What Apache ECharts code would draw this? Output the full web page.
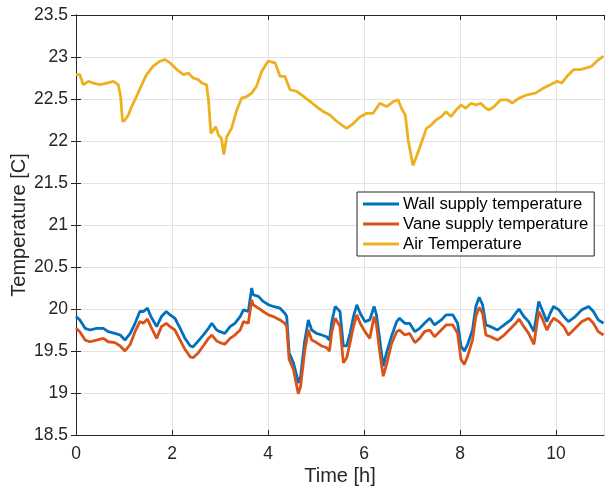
<!DOCTYPE html>
<html><head><meta charset="utf-8">
<script src="https://cdn.jsdelivr.net/npm/echarts@6/dist/echarts.min.js"></script>
<style>html,body{margin:0;padding:0;background:#fff}#c{width:607px;height:491px}</style>
</head><body><div id="c"></div>
<script>
const seriesNames = ['Wall supply temperature', 'Vane supply temperature', 'Air Temperature'];
const xTicks = [0, 2, 4, 6, 8, 10];
const yTicks = [18.5, 19, 19.5, 20, 20.5, 21, 21.5, 22, 22.5, 23, 23.5];

const supplyTime = [0,0.08,0.19,0.29,0.43,0.57,0.67,0.81,0.92,1.02,1.13,1.23,1.33,1.40,1.49,1.56,1.68,1.78,1.88,1.96,2.06,2.17,2.27,2.38,2.44,2.55,2.65,2.76,2.83,2.93,3.0,3.1,3.21,3.31,3.42,3.49,3.59,3.66,3.69,3.8,3.9,4.01,4.11,4.25,4.35,4.39,4.44,4.53,4.6,4.63,4.68,4.76,4.84,4.91,5.01,5.12,5.22,5.28,5.33,
5.40,5.50,5.57,5.64,5.71,5.78,5.85,5.92,6.02,6.12,6.21,6.26,6.33,6.40,6.47,6.57,6.68,6.74,6.85,6.95,7.06,7.16,7.26,7.37,7.47,7.61,7.71,7.85,7.95,8.02,8.09,8.16,8.26,8.33,8.40,8.47,8.54,8.64,8.78,8.92,9.06,9.16,9.23,9.33,9.43,9.54,9.64,9.71,9.81,9.88,9.95,10.06,10.16,10.26,10.40,10.54,10.68,10.78,10.88,10.99];

const wallSupply = [19.91,19.87,19.77,19.75,19.77,19.77,19.73,19.71,19.69,19.63,19.71,19.83,19.97,19.97,20.01,19.91,19.79,19.91,19.97,19.93,19.89,19.77,19.65,19.56,19.55,19.62,19.69,19.77,19.83,19.75,19.73,19.71,19.79,19.83,19.91,19.99,19.97,20.25,20.17,20.15,20.09,20.05,20.03,20.01,19.95,19.91,19.48,19.36,19.20,19.12,19.20,19.60,19.87,19.75,19.71,19.69,19.67,19.63,19.85,
20.03,19.97,19.56,19.56,19.71,19.91,20.05,19.95,19.85,19.87,20.03,19.93,19.63,19.32,19.48,19.67,19.85,19.89,19.83,19.83,19.73,19.77,19.83,19.89,19.81,19.87,19.93,19.93,19.83,19.56,19.50,19.58,19.75,20.03,20.14,20.05,19.81,19.79,19.75,19.81,19.87,19.95,20.00,19.91,19.85,19.73,20.09,19.99,19.85,19.95,20.03,19.99,19.91,19.85,19.91,19.99,20.03,19.97,19.87,19.83];

const vaneSupply = [19.77,19.73,19.63,19.61,19.63,19.65,19.61,19.60,19.56,19.50,19.58,19.73,19.85,19.83,19.88,19.79,19.65,19.79,19.83,19.79,19.75,19.63,19.52,19.43,19.42,19.48,19.56,19.65,19.69,19.62,19.60,19.58,19.65,19.69,19.75,19.85,19.83,20.11,20.05,20.01,19.97,19.93,19.91,19.87,19.83,19.79,19.40,19.28,19.08,18.99,19.08,19.48,19.75,19.63,19.60,19.56,19.54,19.50,19.73,
19.89,19.79,19.36,19.42,19.60,19.79,19.93,19.83,19.73,19.65,19.91,19.81,19.48,19.20,19.34,19.58,19.73,19.75,19.69,19.71,19.60,19.65,19.73,19.75,19.67,19.75,19.81,19.81,19.71,19.40,19.34,19.44,19.63,19.91,20.02,19.95,19.69,19.67,19.63,19.69,19.77,19.83,19.88,19.79,19.71,19.58,19.97,19.89,19.75,19.83,19.89,19.85,19.79,19.69,19.77,19.85,19.89,19.83,19.73,19.69];

const airTime = [0,0.08,0.15,0.26,0.36,0.5,0.64,0.78,0.88,0.93,0.97,1.02,1.09,1.16,1.26,1.37,1.47,1.61,1.75,1.85,1.96,2.1,2.24,2.34,2.44,2.55,2.62,2.72,2.76,2.81,2.86,2.91,2.97,3.03,3.08,3.14,3.24,3.35,3.45,3.56,3.66,3.76,3.87,4.0,4.15,4.25,4.35,4.46,4.6,4.74,4.88,5.01,5.15,5.29,5.4,5.54,5.64,5.78,5.92,6.06,6.19,6.33,6.47,6.61,6.71,6.78,6.86,6.92,7.02,7.09,7.19,7.3,7.4,7.5,7.61,7.71,7.81,7.92,8.02,8.12,8.23,8.33,8.43,8.54,8.61,8.71,8.85,8.99,9.09,9.23,9.4,9.57,9.74,9.88,10.02,10.12,10.23,10.37,10.5,10.64,10.74,10.85,10.99];
const airTemp = [22.79,22.79,22.67,22.71,22.69,22.67,22.69,22.71,22.67,22.53,22.23,22.25,22.31,22.41,22.53,22.67,22.79,22.89,22.95,22.97,22.93,22.85,22.79,22.81,22.75,22.73,22.69,22.67,22.49,22.09,22.13,22.17,22.07,22.03,21.84,22.05,22.15,22.37,22.51,22.53,22.57,22.65,22.83,22.95,22.93,22.77,22.77,22.61,22.59,22.53,22.47,22.41,22.35,22.31,22.25,22.19,22.15,22.21,22.29,22.33,22.33,22.45,22.41,22.47,22.49,22.39,22.31,22.01,21.71,21.81,21.97,22.15,22.19,22.25,22.29,22.35,22.29,22.37,22.43,22.39,22.45,22.43,22.45,22.39,22.37,22.41,22.49,22.49,22.45,22.51,22.55,22.57,22.63,22.67,22.71,22.69,22.77,22.85,22.85,22.87,22.89,22.95,23.01];

const colors = ['#0072BD', '#D95319', '#EDB120'];
const zip = (t, v) => t.map((x, i) => [x, v[i]]);
const font = 'Liberation Sans, Arial, Helvetica, sans-serif';
const txt = '#262626';

const chart = echarts.init(document.getElementById('c'), null, {renderer: 'canvas'});
const axisLine = {show: true, lineStyle: {color: '#262626', width: 1}};
const tick = {show: true, inside: true, length: 5, lineStyle: {color: '#262626'}};
chart.setOption({
  animation: false,
  backgroundColor: '#fff',
  grid: {left: 76, right: 3, top: 15, bottom: 56, containLabel: false, outerBoundsMode: 'none'},
  legend: {
    data: seriesNames, orient: 'vertical', left: 357, top: 192,
    padding: [2, 6, 2, 6], itemGap: 0, itemWidth: 36, itemHeight: 3,
    icon: 'rect', borderColor: '#262626', borderWidth: 1, backgroundColor: '#fff',
    textStyle: {fontFamily: font, fontSize: 16.7, color: '#000', lineHeight: 20, padding: [0, 0, 0, -1]},
    itemStyle: {borderWidth: 0}
  },
  xAxis: [{
    type: 'value', min: 0, max: 11, interval: 2, position: 'bottom',
    name: 'Time [h]', nameLocation: 'middle', nameGap: 31, nameMoveOverlap: false,
    nameTextStyle: {fontFamily: font, fontSize: 20, color: txt},
    axisLine: axisLine, axisTick: tick,
    axisLabel: {fontFamily: font, fontSize: 17.5, color: txt, margin: 10, showMaxLabel: false,
      formatter: v => xTicks.includes(v) ? String(v) : ''},
    splitLine: {show: true, lineStyle: {color: '#e3e3e3', width: 1}}
  }, {
    type: 'value', min: 0, max: 11, interval: 2, position: 'top',
    axisLine: axisLine, axisTick: tick, axisLabel: {show: false}, splitLine: {show: false}
  }],
  yAxis: [{
    type: 'value', min: 18.5, max: 23.5, interval: 0.5, position: 'left',
    name: 'Temperature [C]', nameLocation: 'middle', nameGap: 47, nameRotate: 90, nameMoveOverlap: false,
    nameTextStyle: {fontFamily: font, fontSize: 20, color: txt},
    axisLine: axisLine, axisTick: tick,
    axisLabel: {fontFamily: font, fontSize: 17.5, color: txt, margin: 8,
      formatter: v => yTicks.includes(v) ? String(v) : ''},
    splitLine: {show: true, lineStyle: {color: '#e3e3e3', width: 1}}
  }, {
    type: 'value', min: 18.5, max: 23.5, interval: 0.5, position: 'right',
    axisLine: axisLine, axisTick: tick, axisLabel: {show: false}, splitLine: {show: false}
  }],
  series: [
    {name: seriesNames[0], type: 'line', data: zip(supplyTime, wallSupply), showSymbol: false, symbol: 'none',
      lineStyle: {color: colors[0], width: 2.8}, itemStyle: {color: colors[0]}, clip: true, z: 3},
    {name: seriesNames[1], type: 'line', data: zip(supplyTime, vaneSupply), showSymbol: false, symbol: 'none',
      lineStyle: {color: colors[1], width: 2.8}, itemStyle: {color: colors[1]}, clip: true, z: 4},
    {name: seriesNames[2], type: 'line', data: zip(airTime, airTemp), showSymbol: false, symbol: 'none',
      lineStyle: {color: colors[2], width: 2.8}, itemStyle: {color: colors[2]}, clip: true, z: 5}
  ]
});
</script></body></html>
